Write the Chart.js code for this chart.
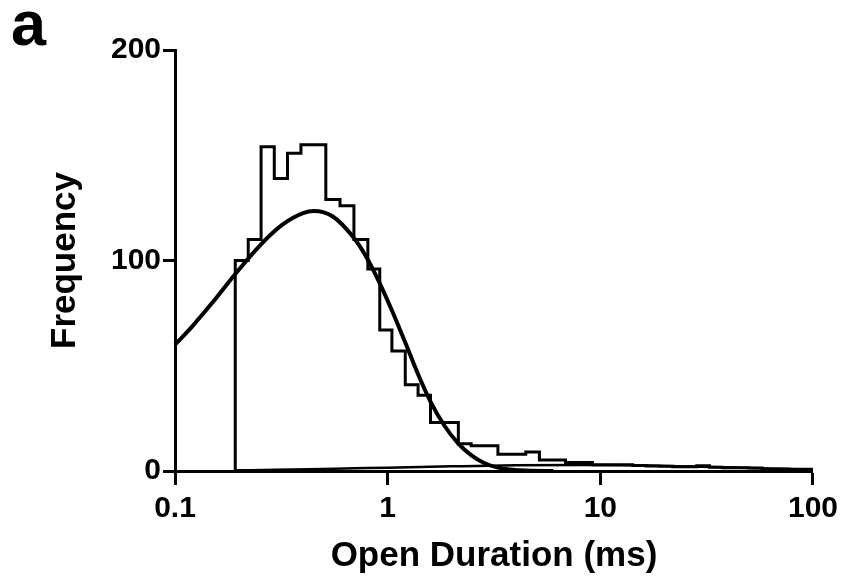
<!DOCTYPE html>
<html lang="en">
<head>
    <meta charset="UTF-8"/>
    <title>Open Duration histogram</title>
    <script src="https://cdn.jsdelivr.net/npm/chart.js"></script>
    <style>
        html, body { margin: 0; padding: 0; background: #fff; }
        .wrap { position: relative; width: 844px; height: 583px; }
        .panel {
            position: absolute; left: 11px; top: -8px;
            font: bold 63px "Liberation Sans", Arial, sans-serif;
            line-height: 1; color: #000;
        }
    </style>
</head>
<body>
<div class="wrap">
    <canvas id="grafico" width="844" height="583"></canvas>
    <div class="panel">a</div>
</div>

<script>
    // histogram bins (ms): left edges + final right edge
    const binEdges = [0.192, 0.221, 0.254, 0.293, 0.338, 0.391, 0.451, 0.512, 0.597, 0.694,
        0.807, 0.918, 1.047, 1.21, 1.39, 1.59, 1.85, 2.15, 2.47, 2.84,
        3.30, 3.84, 4.46, 5.17, 5.97, 6.86, 7.98, 9.18, 10.6, 12.2,
        14.2, 16.4, 18.9, 21.9, 25.2, 28.4, 32.6, 37.5, 43.5, 50.0,
        57.7, 66.9, 77.0, 88.8, 100];
    const binCounts = [100, 110, 154, 139, 151, 155, 155, 129, 126, 110,
        96, 67, 57, 41, 36, 23, 23, 13, 12, 12,
        8, 8, 9, 5.2, 5.2, 4, 4, 3, 3, 3,
        2.6, 2.4, 2.2, 2.0, 2.0, 2.5, 1.8, 1.6, 1.5, 1.4,
        1.0, 1.0, 0.8, 0.8];

    // main fitted component
    const fitTimes = [0.1, 0.12, 0.15, 0.19, 0.25, 0.32, 0.4, 0.45, 0.55, 0.69,
        0.79, 0.91, 1.05, 1.21, 1.39, 1.59, 1.85, 2.15, 2.47, 2.84, 3.3, 4.5, 6];
    const fitValues = [60, 68.5, 80, 93, 107, 117, 122.5, 123.5, 121, 111,
        102, 90, 76, 61, 46, 33, 21.5, 13, 7.5, 3.8, 1.6, 0.2, 0];

    // slow minor component near the baseline
    const slowTimes = [0.19, 0.3, 0.5, 1, 2, 4, 8, 15, 30, 60, 100];
    const slowValues = [0.3, 0.6, 1.0, 1.6, 2.2, 2.7, 2.9, 2.7, 2.0, 1.2, 0.7];

    const xTicks = [0.1, 1, 10, 100];
    const xTickLabels = ['0.1', '1', '10', '100'];
    const yTicks = [0, 100, 200];

    window.onload = function() {
        // step line: start on the baseline, then one point per bin edge
        const histPoints = [{x: binEdges[0], y: 0}];
        binEdges.forEach((e, i) => {
            const c = i < binCounts.length ? binCounts[i] : binCounts[binCounts.length - 1];
            histPoints.push({x: e, y: c});
        });
        const fitPoints = fitTimes.map((t, i) => ({x: t, y: fitValues[i]}));
        const slowPoints = slowTimes.map((t, i) => ({x: t, y: slowValues[i]}));

        const fonte = "'Liberation Sans', Arial, sans-serif";

        const config = {
            type: 'line',
            data: {
                datasets: [
                    {
                        label: 'Histogram',
                        data: histPoints,
                        stepped: 'before',
                        borderColor: '#000',
                        borderWidth: 3,
                        pointRadius: 0,
                        fill: false,
                        clip: 10
                    },
                    {
                        label: 'Fit',
                        data: fitPoints,
                        borderColor: '#000',
                        borderWidth: 4,
                        pointRadius: 0,
                        cubicInterpolationMode: 'monotone',
                        fill: false,
                        clip: 10
                    },
                    {
                        label: 'Slow',
                        data: slowPoints,
                        borderColor: '#000',
                        borderWidth: 2.5,
                        pointRadius: 0,
                        cubicInterpolationMode: 'monotone',
                        fill: false,
                        clip: 10
                    }
                ]
            },
            options: {
                responsive: false,
                animation: false,
                layout: { padding: { top: 50, right: 28, bottom: 0, left: 0 } },
                plugins: { legend: { display: false }, tooltip: { enabled: false } },
                scales: {
                    x: {
                        type: 'logarithmic',
                        min: 0.1,
                        max: 100,
                        afterBuildTicks: s => { s.ticks = xTicks.map(v => ({value: v})); },
                        afterFit: s => { s.height = 112; },
                        ticks: {
                            callback: (v, i) => xTickLabels[i],
                            font: { family: fonte, size: 30, weight: 'bold' },
                            color: '#000',
                            padding: 6,
                            maxRotation: 0,
                            autoSkip: false
                        },
                        grid: { drawOnChartArea: false, drawTicks: true, tickLength: 14, tickWidth: 3, tickColor: '#000' },
                        border: { display: true, color: '#000', width: 3 },
                        title: {
                            display: true,
                            text: 'Open Duration (ms)',
                            font: { family: fonte, size: 35, weight: 'bold' },
                            color: '#000',
                            padding: { top: 0, bottom: 6 }
                        }
                    },
                    y: {
                        min: 0,
                        max: 200,
                        afterBuildTicks: s => { s.ticks = yTicks.map(v => ({value: v})); },
                        afterFit: s => { s.width = 175; },
                        ticks: {
                            font: { family: fonte, size: 30, weight: 'bold' },
                            color: '#000',
                            padding: 2
                        },
                        grid: { drawOnChartArea: false, drawTicks: true, tickLength: 12, tickWidth: 3, tickColor: '#000' },
                        border: { display: true, color: '#000', width: 3 },
                        title: {
                            display: true,
                            text: 'Frequency',
                            font: { family: fonte, size: 35, weight: 'bold' },
                            color: '#000',
                            padding: { top: 44, bottom: 0 }
                        }
                    }
                }
            }
        };

        const ctx = document.getElementById('grafico').getContext('2d');
        new Chart(ctx, config);
    };
</script>
</body>
</html>
